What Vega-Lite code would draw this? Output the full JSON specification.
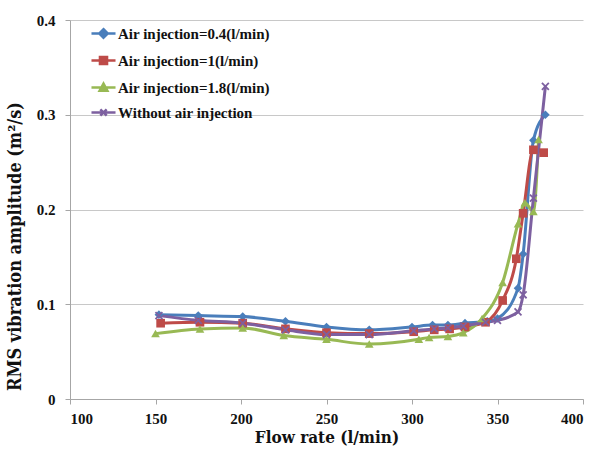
{
  "$schema": "https://vega.github.io/schema/vega-lite/v6.json",
  "width": 513,
  "height": 379,
  "autosize": "none",
  "padding": {"left": 70, "top": 20, "right": 16, "bottom": 56},
  "background": "white",
  "config": {
    "view": {"stroke": null},
    "font": "Liberation Serif",
    "axis": {"labelFont": "Liberation Serif", "titleFont": "DejaVu Serif Condensed", "labelFontWeight": "bold", "titleFontWeight": "bold", "labelFontSize": 15, "titleFontSize": 17, "labelColor": "#111", "titleColor": "#111", "domainColor": "#a6a6a6", "tickColor": "#a6a6a6", "gridColor": "#c8c8c8"},
    "legend": {"labelFont": "Liberation Serif", "labelFontWeight": "bold", "labelFontSize": 15, "labelColor": "#111", "labelLimit": 400}
  },
  "data": {"values": [
    {"s": "Air injection=0.4(l/min)", "q": 152, "v": 0.089},
    {"s": "Air injection=0.4(l/min)", "q": 175, "v": 0.088},
    {"s": "Air injection=0.4(l/min)", "q": 201, "v": 0.087},
    {"s": "Air injection=0.4(l/min)", "q": 226, "v": 0.082},
    {"s": "Air injection=0.4(l/min)", "q": 250, "v": 0.076},
    {"s": "Air injection=0.4(l/min)", "q": 275, "v": 0.073},
    {"s": "Air injection=0.4(l/min)", "q": 300, "v": 0.076},
    {"s": "Air injection=0.4(l/min)", "q": 312, "v": 0.078},
    {"s": "Air injection=0.4(l/min)", "q": 321, "v": 0.078},
    {"s": "Air injection=0.4(l/min)", "q": 331, "v": 0.080},
    {"s": "Air injection=0.4(l/min)", "q": 344, "v": 0.082},
    {"s": "Air injection=0.4(l/min)", "q": 350, "v": 0.085},
    {"s": "Air injection=0.4(l/min)", "q": 362, "v": 0.117},
    {"s": "Air injection=0.4(l/min)", "q": 365, "v": 0.153},
    {"s": "Air injection=0.4(l/min)", "q": 371, "v": 0.273},
    {"s": "Air injection=0.4(l/min)", "q": 378, "v": 0.300},
    {"s": "Air injection=1(l/min)", "q": 153, "v": 0.080},
    {"s": "Air injection=1(l/min)", "q": 176, "v": 0.081},
    {"s": "Air injection=1(l/min)", "q": 201, "v": 0.080},
    {"s": "Air injection=1(l/min)", "q": 226, "v": 0.074},
    {"s": "Air injection=1(l/min)", "q": 250, "v": 0.070},
    {"s": "Air injection=1(l/min)", "q": 275, "v": 0.069},
    {"s": "Air injection=1(l/min)", "q": 301, "v": 0.071},
    {"s": "Air injection=1(l/min)", "q": 313, "v": 0.073},
    {"s": "Air injection=1(l/min)", "q": 322, "v": 0.074},
    {"s": "Air injection=1(l/min)", "q": 331, "v": 0.076},
    {"s": "Air injection=1(l/min)", "q": 343, "v": 0.081},
    {"s": "Air injection=1(l/min)", "q": 353, "v": 0.104},
    {"s": "Air injection=1(l/min)", "q": 361, "v": 0.148},
    {"s": "Air injection=1(l/min)", "q": 365, "v": 0.196},
    {"s": "Air injection=1(l/min)", "q": 371, "v": 0.263},
    {"s": "Air injection=1(l/min)", "q": 377, "v": 0.260},
    {"s": "Air injection=1.8(l/min)", "q": 150, "v": 0.069},
    {"s": "Air injection=1.8(l/min)", "q": 176, "v": 0.074},
    {"s": "Air injection=1.8(l/min)", "q": 201, "v": 0.075},
    {"s": "Air injection=1.8(l/min)", "q": 225, "v": 0.067},
    {"s": "Air injection=1.8(l/min)", "q": 250, "v": 0.063},
    {"s": "Air injection=1.8(l/min)", "q": 275, "v": 0.058},
    {"s": "Air injection=1.8(l/min)", "q": 304, "v": 0.063},
    {"s": "Air injection=1.8(l/min)", "q": 310, "v": 0.065},
    {"s": "Air injection=1.8(l/min)", "q": 321, "v": 0.066},
    {"s": "Air injection=1.8(l/min)", "q": 330, "v": 0.070},
    {"s": "Air injection=1.8(l/min)", "q": 341, "v": 0.085},
    {"s": "Air injection=1.8(l/min)", "q": 353, "v": 0.123},
    {"s": "Air injection=1.8(l/min)", "q": 362, "v": 0.185},
    {"s": "Air injection=1.8(l/min)", "q": 366, "v": 0.207},
    {"s": "Air injection=1.8(l/min)", "q": 371, "v": 0.198},
    {"s": "Air injection=1.8(l/min)", "q": 374, "v": 0.274},
    {"s": "Without air injection", "q": 152, "v": 0.088},
    {"s": "Without air injection", "q": 175, "v": 0.083},
    {"s": "Without air injection", "q": 201, "v": 0.080},
    {"s": "Without air injection", "q": 226, "v": 0.073},
    {"s": "Without air injection", "q": 250, "v": 0.068},
    {"s": "Without air injection", "q": 275, "v": 0.068},
    {"s": "Without air injection", "q": 301, "v": 0.072},
    {"s": "Without air injection", "q": 313, "v": 0.074},
    {"s": "Without air injection", "q": 321, "v": 0.075},
    {"s": "Without air injection", "q": 330, "v": 0.077},
    {"s": "Without air injection", "q": 343, "v": 0.081},
    {"s": "Without air injection", "q": 350, "v": 0.083},
    {"s": "Without air injection", "q": 362, "v": 0.092},
    {"s": "Without air injection", "q": 365, "v": 0.110},
    {"s": "Without air injection", "q": 371, "v": 0.212},
    {"s": "Without air injection", "q": 378, "v": 0.330}
  ]},
  "encoding": {
    "x": {"field": "q", "type": "quantitative", "scale": {"domain": [100, 400], "nice": false}, "axis": {"title": "Flow rate (l/min)", "values": [100, 150, 200, 250, 300, 350, 400], "grid": false, "tickSize": 5, "labelPadding": 7, "titlePadding": 3}},
    "y": {"field": "v", "type": "quantitative", "scale": {"domain": [0, 0.4], "nice": false}, "axis": {"title": "RMS vibration amplitude (m²/s)", "titleFontSize": 18, "titleY": 226, "values": [0, 0.1, 0.2, 0.3, 0.4], "format": "~g", "grid": true, "tickSize": 5, "labelPadding": 10, "titlePadding": 12}},
    "color": {"field": "s", "type": "nominal", "scale": {"domain": ["Air injection=0.4(l/min)", "Air injection=1(l/min)", "Air injection=1.8(l/min)", "Without air injection"], "range": ["#4a7ebb", "#be4b48", "#98b954", "#7d60a0"]},
      "legend": {"title": null, "orient": "none", "legendX": 23, "legendY": 5, "rowPadding": 8, "symbolSize": 200, "symbolStrokeWidth": 2.5, "labelOffset": 6, "symbolOffset": 2,
        "symbolType": {"expr": "datum.value == 'Air injection=0.4(l/min)' ? 'M-1.7,0L1.7,0M0,-0.6L0.6,0L0,0.6L-0.6,0Z' : datum.value == 'Air injection=1(l/min)' ? 'M-1.7,0L1.7,0M-0.5,-0.5L0.5,-0.5L0.5,0.5L-0.5,0.5Z' : datum.value == 'Air injection=1.8(l/min)' ? 'M-1.7,0L1.7,0M0,-0.55L0.55,0.45L-0.55,0.45Z' : 'M-1.7,0L1.7,0M-0.45,-0.45L0.45,0.45M0.45,-0.45L-0.45,0.45'"}}}
  },
  "layer": [
    {"mark": {"type": "line", "interpolate": "monotone", "strokeWidth": 3}},
    {"transform": [{"filter": "datum.s == 'Air injection=0.4(l/min)'"}],
     "mark": {"type": "point", "shape": "diamond", "filled": true, "size": 75, "strokeWidth": 1.5, "opacity": 1}},
    {"transform": [{"filter": "datum.s == 'Air injection=1(l/min)'"}],
     "mark": {"type": "point", "shape": "square", "filled": true, "size": 75, "strokeWidth": 1.5, "opacity": 1}},
    {"transform": [{"filter": "datum.s == 'Air injection=1.8(l/min)'"}],
     "mark": {"type": "point", "shape": "triangle-up", "filled": true, "size": 75, "strokeWidth": 1.5, "opacity": 1}},
    {"transform": [{"filter": "datum.s == 'Without air injection'"}],
     "mark": {"type": "point", "shape": "M-0.8,-0.8L0.8,0.8M0.8,-0.8L-0.8,0.8", "filled": false, "size": 75, "strokeWidth": 1.8, "opacity": 1}}
  ]
}
